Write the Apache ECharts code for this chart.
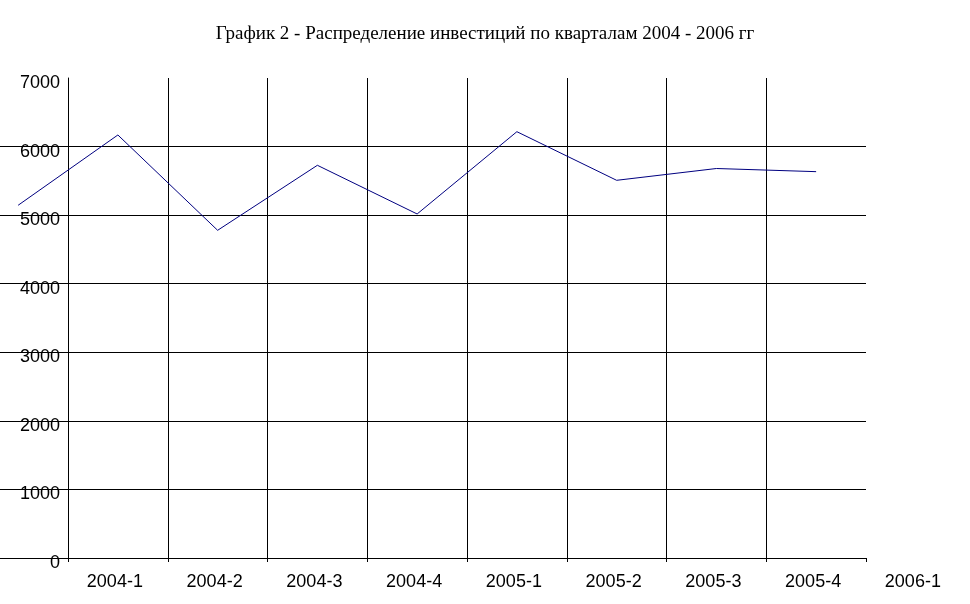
<!DOCTYPE html>
<html>
<head>
<meta charset="utf-8">
<script src="https://cdn.jsdelivr.net/npm/echarts@6/dist/echarts.min.js"></script>
<style>
html,body{margin:0;padding:0;background:#fff;}
#chart{width:970px;height:604px;}
</style>
</head>
<body>
<div id="chart"></div>
<script>
// Tick labels on the category axis
var categoryLabels = ["2004-1","2004-2","2004-3","2004-4","2005-1","2005-2","2005-3","2005-4","2006-1"];
// Quarters of the plotted points (first point sits left of the axis, as in the source)
var pointQuarters = ["2003-4","2004-1","2004-2","2004-3","2004-4","2005-1","2005-2","2005-3","2005-4"];
var investValues = [5144, 6169, 4779, 5727, 5017, 6217, 5508, 5680, 5634];
var yTicks = [0, 1000, 2000, 3000, 4000, 5000, 6000, 7000];
var titleText = "График 2 - Распределение инвестиций по кварталам 2004 - 2006 гг";

var seriesData = investValues.map(function (v, i) { return [i - 0.5, v]; });

var PLOT_LEFT = 68, BAND = 99.75, NBANDS = 8;

var chart = echarts.init(document.getElementById('chart'), null, {renderer: 'canvas'});
var sans = '"Liberation Sans", Arial, sans-serif';
var option = {
  animation: false,
  backgroundColor: '#ffffff',
  title: {
    text: titleText,
    left: 'center',
    top: 20,
    textStyle: {fontFamily: '"Liberation Serif", "Times New Roman", serif', fontSize: 19, fontWeight: 'normal', color: '#000'}
  },
  grid: [
    {left: PLOT_LEFT, top: 78, width: BAND * NBANDS, height: 480},
    {left: 0, top: 78, width: PLOT_LEFT + BAND * NBANDS, height: 480},
    {left: PLOT_LEFT, top: 78, width: BAND * (NBANDS + 1), height: 480}
  ],
  xAxis: [
    {
      gridIndex: 0, type: 'value', min: 0, max: NBANDS, interval: 1,
      axisLine: {show: true, lineStyle: {color: '#000', width: 1}},
      axisTick: {show: true, length: 4, lineStyle: {color: '#000'}},
      axisLabel: {show: false},
      splitLine: {show: true, showMinLine: false, showMaxLine: false, lineStyle: {color: '#000', width: 1}}
    },
    {
      gridIndex: 1, type: 'value', min: -PLOT_LEFT / BAND, max: NBANDS, show: false
    },
    {
      gridIndex: 2, type: 'category', data: categoryLabels, boundaryGap: true,
      axisLine: {show: false}, axisTick: {show: false}, splitLine: {show: false},
      axisLabel: {show: true, interval: 0, margin: 15, fontFamily: sans, fontSize: 18, color: '#000',
        padding: [0, 6, 0, 0]}
    }
  ],
  yAxis: [
    {
      gridIndex: 0, type: 'value', min: yTicks[0], max: yTicks[yTicks.length - 1], interval: 1000,
      axisLine: {show: true, lineStyle: {color: '#000', width: 1}},
      axisTick: {show: false},
      splitLine: {show: false},
      axisLabel: {show: true, margin: 8, fontFamily: sans, fontSize: 18, color: '#000',
        formatter: function (v) { return String(v); },
        verticalAlign: 'top', lineHeight: 10}
    },
    {
      gridIndex: 1, type: 'value', min: yTicks[0], max: yTicks[yTicks.length - 1], interval: 1000,
      axisLine: {show: false}, axisTick: {show: false}, axisLabel: {show: false},
      splitLine: {show: true, showMaxLine: false, lineStyle: {color: '#000', width: 1}}
    },
    {
      gridIndex: 2, type: 'value', show: false
    }
  ],
  series: [
    {
      name: 'Инвестиции', type: 'line', xAxisIndex: 1, yAxisIndex: 1,
      data: seriesData, showSymbol: false, symbol: 'none',
      lineStyle: {color: '#000080', width: 1}, z: 5
    }
  ]
};
chart.setOption(option);
</script>
</body>
</html>
